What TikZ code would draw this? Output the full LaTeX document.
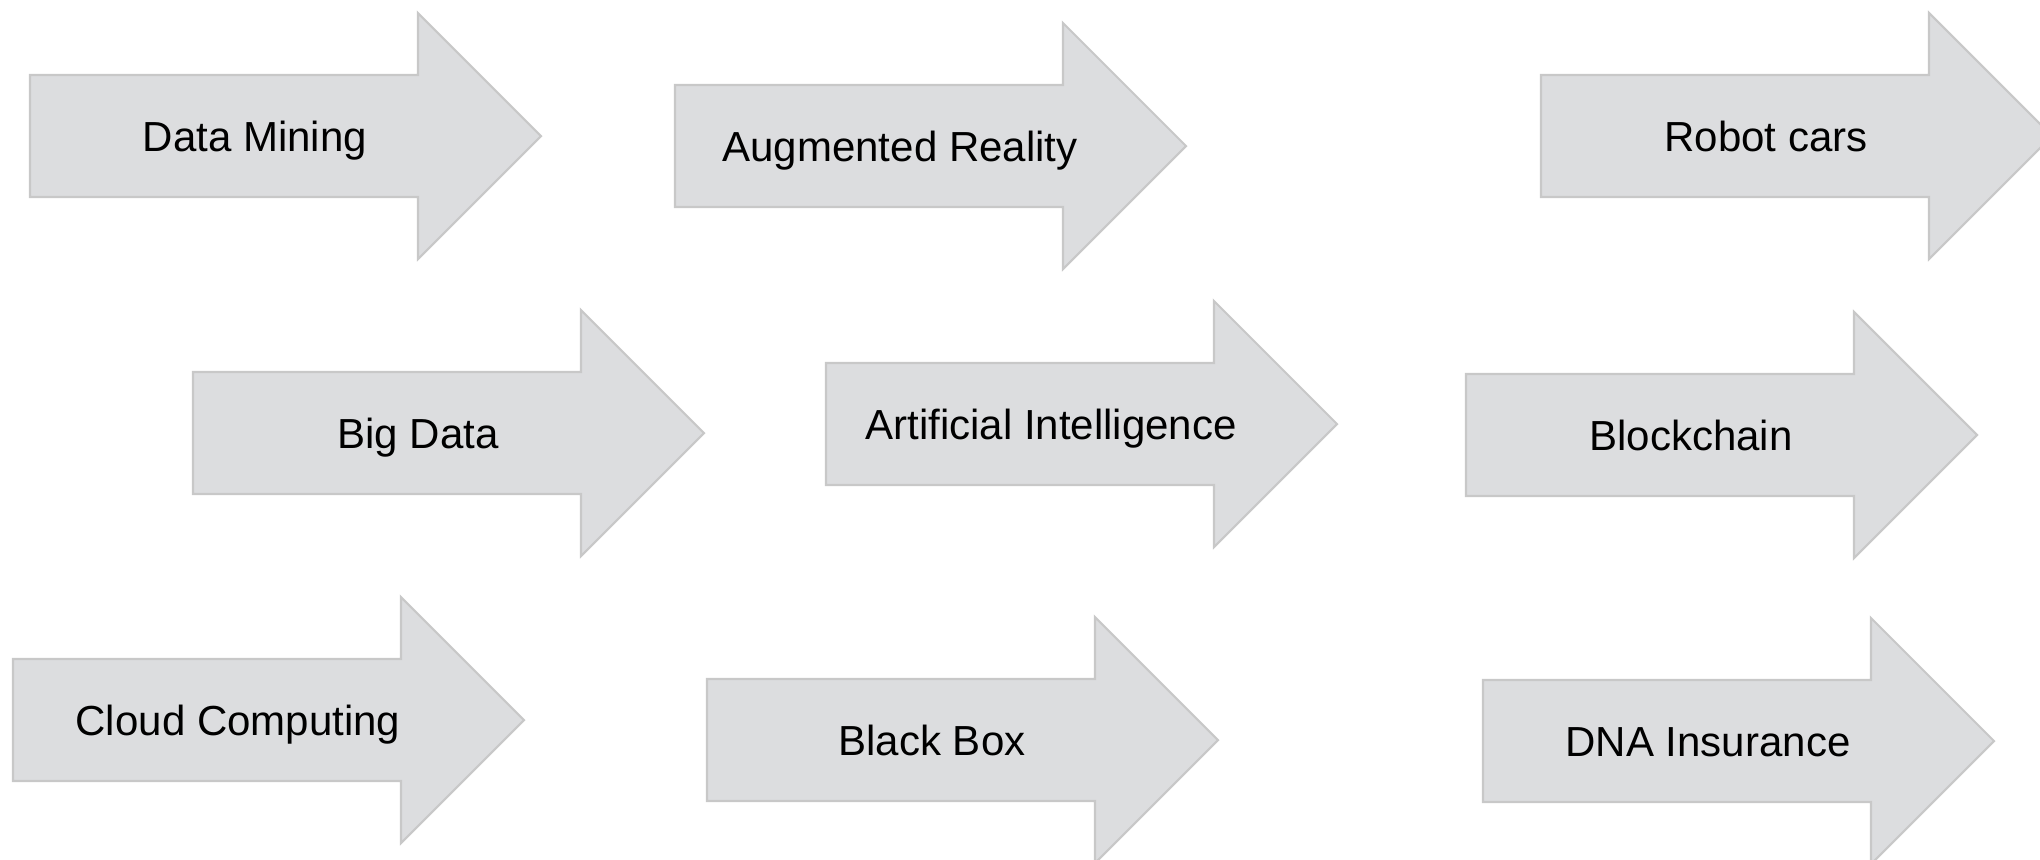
\documentclass[tikz,border=0pt]{standalone}
\usepackage{fontspec}
\setmainfont{Liberation Sans}
\definecolor{arrowfill}{HTML}{DCDDDF}
\definecolor{arrowline}{HTML}{C8C8C8}
\tikzset{
  arrowshape/.style={fill=arrowfill, draw=arrowline, line width=0.6pt, line join=miter},
  lbl/.style={inner sep=0pt, anchor=base, font=\fontsize{11.95pt}{14pt}\selectfont, text=black}
}
\newcommand\arrowitem[4]{%
  \draw[arrowshape] (#1,{#2-61}) -- ({#1+388},{#2-61}) -- ({#1+388},{#2-123}) -- ({#1+511},#2) -- ({#1+388},{#2+123}) -- ({#1+388},{#2+61}) -- (#1,{#2+61}) -- cycle;
  \node[lbl] (#4) at ({#1+225},{#2+15}) {#3};
}
\begin{document}
\begin{tikzpicture}[x=0.01cm, y=-0.01cm]
\useasboundingbox (0,0) rectangle (2040,859);
\clip (0,0) rectangle (2040,859);
\fill[white] (0,0) rectangle (2040,859);
\arrowitem{30}{136}{Data Mining}{dm}
\arrowitem{675}{146}{Augmented Reality}{ar}
\arrowitem{1541}{136}{Robot cars}{rc}
\arrowitem{193}{433}{Big Data}{bd}
\arrowitem{826}{424}{Artificial Intelligence}{ai}
\arrowitem{1466}{435}{Blockchain}{bc}
\arrowitem{13}{720}{Cloud Computing}{cc}
\arrowitem{707}{740}{Black Box}{bb}
\arrowitem{1483}{741}{DNA Insurance}{dna}
\end{tikzpicture}
\end{document}
